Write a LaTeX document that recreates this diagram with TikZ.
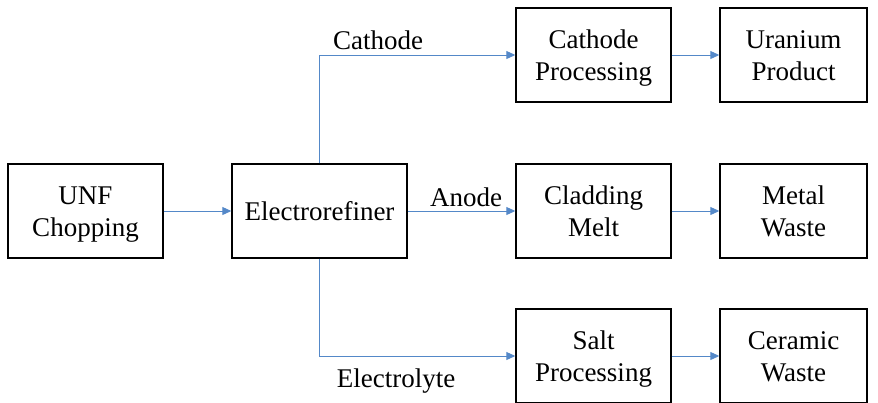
\documentclass[tikz,border=0pt]{standalone}
\usepackage{fontspec}
\setmainfont{Liberation Serif}
\usetikzlibrary{arrows.meta}
\definecolor{arrowblue}{RGB}{84,136,200}
\newcommand{\bxtext}[1]{\raisebox{-3pt}[\height][\depth]{\begin{tabular}{@{}c@{}}#1\end{tabular}}}
\begin{document}
\begin{tikzpicture}[x=1pt,y=-1pt,
  box/.style={draw=black,line width=1.4pt,rectangle,minimum height=94pt,inner sep=0pt,align=center,font=\fontsize{27}{32}\selectfont},
  conn/.style={draw=arrowblue,line width=0.9pt,-{Triangle[length=9pt,width=8pt]}},
  lbl/.style={inner sep=0pt,font=\fontsize{27}{32}\selectfont}]
\useasboundingbox (0,0) rectangle (878,402);
\clip (0,0) rectangle (878,402);
\node[box,minimum width=155pt] (unf) at (85.5,211) {\bxtext{UNF\\Chopping}};
\node[box,minimum width=175pt] (er) at (319.5,211) {\bxtext{Electrorefiner}};
\node[box,minimum width=155pt] (cp) at (593.5,55) {\bxtext{Cathode\\Processing}};
\node[box,minimum width=147pt] (up) at (793.5,55) {\bxtext{Uranium\\Product}};
\node[box,minimum width=155pt] (cm) at (593.5,211) {\bxtext{Cladding\\Melt}};
\node[box,minimum width=147pt] (mw) at (793.5,211) {\bxtext{Metal\\Waste}};
\node[box,minimum width=155pt] (sp) at (593.5,356) {\bxtext{Salt\\Processing}};
\node[box,minimum width=147pt] (cw) at (793.5,356) {\bxtext{Ceramic\\Waste}};
\draw[conn] (unf) -- (er);
\draw[conn] (er.north) |- (cp.west);
\draw[conn] (er.east) -- (cm.west);
\draw[conn] (er.south) |- (sp.west);
\draw[conn] (cp) -- (up);
\draw[conn] (cm) -- (mw);
\draw[conn] (sp) -- (cw);
\node[lbl] (lc) at (378,40) {Cathode};
\node[lbl] (la) at (466,197) {Anode};
\node[lbl] (le) at (396,381) {Electrolyte};
\end{tikzpicture}
\end{document}
